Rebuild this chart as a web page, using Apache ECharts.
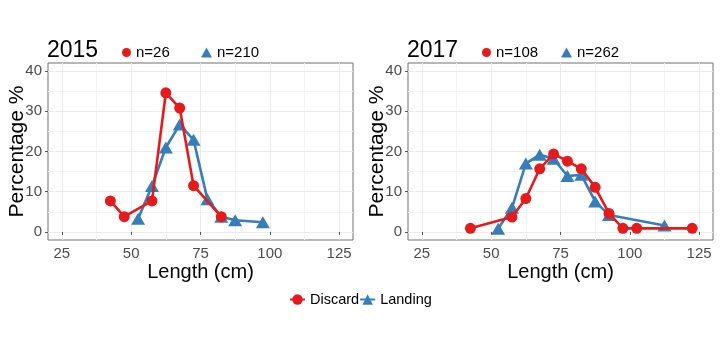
<!DOCTYPE html>
<html><head><meta charset="utf-8">
<script src="https://cdn.jsdelivr.net/npm/echarts@6/dist/echarts.min.js"></script>
<style>html,body{margin:0;padding:0;background:#fff}#c{width:720px;height:339px}</style>
</head><body><div id="c"></div>
<script>
const panelTitles = ['2015', '2017'];
const discardN = ['n=26', 'n=108'];
const landingN = ['n=210', 'n=262'];
const x2015Discard = [42.5, 47.5, 57.5, 62.5, 67.5, 72.5, 82.5];
const y2015Discard = [7.7, 3.8, 7.7, 34.6, 30.8, 11.5, 3.8];
const x2015Landing = [52.5, 57.5, 62.5, 67.5, 72.5, 77.5, 82.5, 87.5, 97.5];
const y2015Landing = [3.3, 11.4, 21.0, 26.7, 22.9, 8.1, 3.8, 2.9, 2.4];
const x2017Discard = [42.5, 57.5, 62.5, 67.5, 72.5, 77.5, 82.5, 87.5, 92.5, 97.5, 102.5, 122.5];
const y2017Discard = [0.9, 3.7, 8.3, 15.7, 19.4, 17.6, 15.7, 11.1, 4.6, 0.9, 0.9, 0.9];
const x2017Landing = [52.5, 57.5, 62.5, 67.5, 72.5, 77.5, 82.5, 87.5, 92.5, 112.5];
const y2017Landing = [0.8, 6.0, 17.0, 19.2, 18.2, 13.9, 14.2, 7.6, 4.2, 1.6];
const xTicks = [25, 50, 75, 100, 125];
const xMinor = [37.5, 62.5, 87.5, 112.5];
const yTicks = [0, 10, 20, 30, 40];
const yMinor = [5, 15, 25, 35];
const legendNames = ['Discard', 'Landing'];

const RED = '#E41A1C', BLUE = '#377EB8';
const FONT = 'Liberation Sans, Arial, sans-serif';
const zip = (xs, ys) => xs.map((x, i) => [x, ys[i]]);

const panelLeft = [48, 408];
const grids = [], xAxes = [], yAxes = [], series = [], titles = [], legends = [];
panelLeft.forEach((L, p) => {
  grids.push({ left: L, top: 63, width: 305, height: 177, show: true, borderColor: '#707070', borderWidth: 1, backgroundColor: 'transparent' });
  grids.push({ left: L, top: 63, width: 305, height: 177, show: false });
});
for (let g = 0; g < 4; g++) {
  const major = g % 2 === 0;
  xAxes.push({
    type: 'value', gridIndex: g, min: 20, max: 130,
    name: major ? 'Length (cm)' : '', nameLocation: 'middle', nameGap: 22, nameMoveOverlap: false,
    nameTextStyle: { fontSize: 20, color: '#000', fontFamily: FONT },
    axisLine: { show: false },
    axisTick: { show: major, length: 3, lineStyle: { color: '#555' }, customValues: major ? xTicks : xMinor },
    axisLabel: { show: major, margin: 6, fontSize: 15, color: '#4D4D4D', fontFamily: FONT, customValues: major ? xTicks : xMinor },
    splitLine: { show: true, lineStyle: { color: major ? '#EBEBEB' : '#F4F4F4', width: 1 } },
    z: major ? 1 : 0
  });
  yAxes.push({
    type: 'value', gridIndex: g, min: -2, max: 42,
    name: major ? 'Percentage %' : '', nameLocation: 'middle', nameGap: 20, nameRotate: 90, nameMoveOverlap: false,
    nameTextStyle: { fontSize: 21, color: '#000', fontFamily: FONT },
    axisLine: { show: false },
    axisTick: { show: major, length: 3, lineStyle: { color: '#555' }, customValues: major ? yTicks : yMinor },
    axisLabel: { show: major, margin: 6, fontSize: 15, color: '#4D4D4D', fontFamily: FONT, customValues: major ? yTicks : yMinor },
    splitLine: { show: true, lineStyle: { color: major ? '#EBEBEB' : '#F4F4F4', width: 1 } },
    z: major ? 1 : 0
  });
}
const panelData = [
  [zip(x2015Landing, y2015Landing), zip(x2015Discard, y2015Discard)],
  [zip(x2017Landing, y2017Landing), zip(x2017Discard, y2017Discard)]
];
panelData.forEach((pd, p) => {
  const ax = p * 2;
  series.push({
    name: landingN[p], type: 'line', xAxisIndex: ax, yAxisIndex: ax, data: pd[0],
    symbol: 'triangle', symbolSize: [14, 12], color: BLUE,
    lineStyle: { width: 2.6, color: BLUE }, itemStyle: { color: BLUE }, z: 3, animation: false
  });
  series.push({
    name: discardN[p], type: 'line', xAxisIndex: ax, yAxisIndex: ax, data: pd[1],
    symbol: 'circle', symbolSize: 11, color: RED,
    lineStyle: { width: 2.6, color: RED }, itemStyle: { color: RED }, z: 4, animation: false
  });
  titles.push({ text: panelTitles[p], left: panelLeft[p] - 1, top: 39, padding: 0,
    textStyle: { fontSize: 23, fontWeight: 'normal', color: '#000', fontFamily: FONT } });
  legends.push({ data: [discardN[p]], left: panelLeft[p] + 74, top: 45, padding: 0, icon: 'circle',
    itemWidth: 9, itemHeight: 9, textStyle: { fontSize: 15, color: '#000', fontFamily: FONT } });
  legends.push({ data: [landingN[p]], left: panelLeft[p] + 153, top: 45, padding: 0, icon: 'triangle',
    itemWidth: 11, itemHeight: 10, textStyle: { fontSize: 15, color: '#000', fontFamily: FONT } });
});
series.push({ name: legendNames[0], type: 'line', xAxisIndex: 0, yAxisIndex: 0, data: [], symbol: 'circle', color: RED, lineStyle: { width: 2.6, color: RED }, itemStyle: { color: RED } });
series.push({ name: legendNames[1], type: 'line', xAxisIndex: 0, yAxisIndex: 0, data: [], symbol: 'triangle', color: BLUE, lineStyle: { width: 2.6, color: BLUE }, itemStyle: { color: BLUE } });
legends.push({ data: legendNames, left: 289, top: 292, padding: 0, itemGap: 0, itemWidth: 15, itemHeight: 13,
  textStyle: { fontSize: 14.5, color: '#000', fontFamily: FONT } });

const chart = echarts.init(document.getElementById('c'), null, { renderer: 'canvas' });
chart.setOption({
  animation: false, backgroundColor: '#fff',
  title: titles, legend: legends, grid: grids, xAxis: xAxes, yAxis: yAxes, series: series
});
</script></body></html>
